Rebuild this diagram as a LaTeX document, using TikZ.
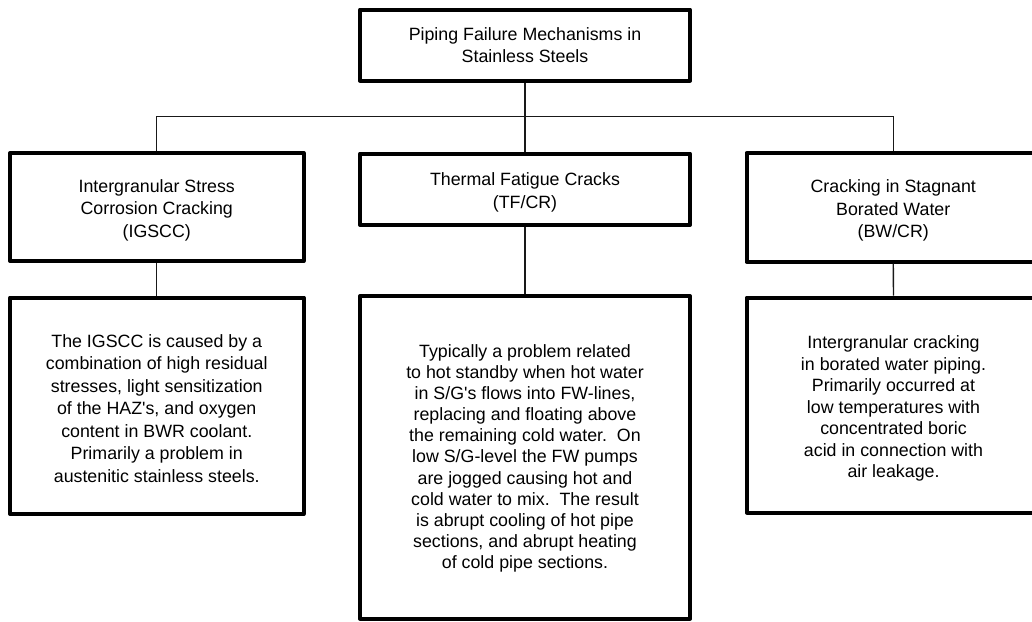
\documentclass[tikz,border=0pt]{standalone}
\usepackage{fontspec}
\setmainfont{Liberation Sans}[Ligatures=TeXOff]
% invisible strut that lowers a text block inside its box
\newcommand\padtop[1]{\rule{0pt}{#1}}
\begin{document}
\begin{tikzpicture}[x=1pt,y=-1pt,
  box/.style={draw, line width=4pt, line join=round, fill=white, inner sep=0pt,
    align=center, font=\fontsize{17.8}{22.5}\selectfont},
  link/.style={line width=1.4pt, draw=black!90}]
\useasboundingbox (0,0) rectangle (1032,621);

% root
\node[box, minimum width=330pt, minimum height=71pt] (top) at (525,45)
  {Piping Failure Mechanisms in\\Stainless Steels};

% mechanisms
\node[box, minimum width=293.5pt, minimum height=108pt] (l1) at (156.75,207)
  {\padtop{19.5pt}Intergranular Stress\\Corrosion Cracking\\(IGSCC)};
\node[box, minimum width=330pt, minimum height=71.5pt] (m1) at (525,189.25)
  {\padtop{19.5pt}Thermal Fatigue Cracks\\(TF/CR)};
\node[box, minimum width=293.5pt, minimum height=108.5pt] (r1) at (893.25,207.25)
  {\padtop{19.5pt}Cracking in Stagnant\\Borated Water\\(BW/CR)};

% descriptions
\node[box, minimum width=293.5pt, minimum height=216.5pt] (l2) at (156.75,405.75)
  {\padtop{18.5pt}The IGSCC is caused by a\\combination of high residual\\stresses, light sensitization\\of the HAZ's, and oxygen\\content in BWR coolant.\\Primarily a problem in\\austenitic stainless steels.};
\node[box, minimum width=330pt, minimum height=322.5pt,
  font=\fontsize{17.8}{21.1}\selectfont] (m2) at (525,457.25)
  {\padtop{15pt}Typically a problem related\\to hot standby when hot water\\in S/G's flows into FW-lines,\\replacing and floating above\\the remaining cold water.\ \ On\\low S/G-level the FW pumps\\are jogged causing hot and\\cold water to mix.\ \ The result\\is abrupt cooling of hot pipe\\sections, and abrupt heating\\of cold pipe sections.};
\node[box, minimum width=293.5pt, minimum height=215pt,
  font=\fontsize{17.8}{21.5}\selectfont] (r2) at (893.5,405)
  {\padtop{20pt}Intergranular cracking\\in borated water piping.\\Primarily occurred at\\low temperatures with\\concentrated boric\\acid in connection with\\air leakage.};

% connectors
\coordinate (bus) at (0,116.7);
\draw[link] (top.south) -- (m1.north);
\draw[link] (l1.north) -- (l1.north |- bus) -- (r1.north |- bus) -- (r1.north);
\draw[link] (l1.south) -- (l2.north);
\draw[link] (m1.south) -- (m2.north);
\draw[link] (r1.south) -- (r2.north);
\end{tikzpicture}
\end{document}
